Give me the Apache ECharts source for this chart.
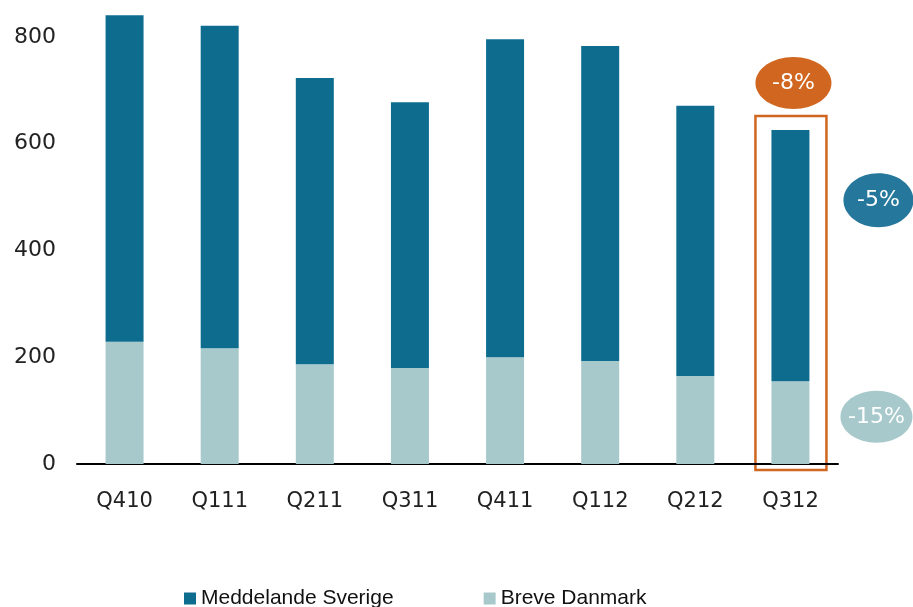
<!DOCTYPE html>
<html>
<head>
<meta charset="utf-8">
<script src="https://cdn.jsdelivr.net/npm/echarts@6/dist/echarts.min.js"></script>
<style>
  html, body { margin: 0; padding: 0; background: #fff; }
  #chart { width: 913px; height: 607px; }
</style>
</head>
<body>
<div id="chart"></div>
<script>
// Quarters on the x axis
const quarters = ['Q410', 'Q111', 'Q211', 'Q311', 'Q411', 'Q112', 'Q212', 'Q312'];
// Stacked values
const breveDanmark = [229, 217, 187, 180, 200, 193, 165, 155];
const meddelandeSverige = [612, 604, 536, 498, 596, 590, 506, 471];
// Change labels shown in the bubbles on the right
const changeTotal = '-8%';
const changeSverige = '-5%';
const changeDanmark = '-15%';

const darkTeal = '#0e6d8f';
const lightTeal = '#a8c9cb';
const orange = '#d0661f';

const chart = echarts.init(document.getElementById('chart'));

const option = {
  animation: false,
  grid: { left: 77, right: 75, top: 5, bottom: 143 },
  legend: {
    left: 179,
    top: 583,
    itemWidth: 12,
    itemHeight: 12,
    itemGap: 90,
    icon: 'rect',
    textStyle: { fontFamily: 'Liberation Sans', fontSize: 21, color: '#111' },
    data: ['Meddelande Sverige', 'Breve Danmark']
  },
  xAxis: {
    type: 'category',
    data: quarters,
    axisLine: { lineStyle: { color: '#000', width: 2 } },
    axisTick: { show: false },
    axisLabel: { fontFamily: 'DejaVu Sans', fontSize: 21, color: '#222', margin: 27 }
  },
  yAxis: {
    type: 'value',
    min: 0,
    max: 860,
    interval: 200,
    splitLine: { show: false },
    axisLine: { show: false },
    axisTick: { show: false },
    axisLabel: {
      fontFamily: 'DejaVu Sans', fontSize: 22, color: '#222', margin: 21,
      formatter: v => (v % 200 === 0 ? v : '')
    }
  },
  series: [
    {
      name: 'Breve Danmark',
      type: 'bar',
      stack: 'total',
      barWidth: 38,
      itemStyle: { color: lightTeal },
      data: breveDanmark
    },
    {
      name: 'Meddelande Sverige',
      type: 'bar',
      stack: 'total',
      barWidth: 38,
      itemStyle: { color: darkTeal },
      data: meddelandeSverige
    }
  ]
};
chart.setOption(option);

// Annotations placed relative to the last bar
const last = quarters.length - 1;
const lastTotal = breveDanmark[last] + meddelandeSverige[last];
const [cx, topY] = chart.convertToPixel({ seriesIndex: 0 }, [last, lastTotal]);
const [, baseY] = chart.convertToPixel({ seriesIndex: 0 }, [last, 0]);
const [, midSverige] = chart.convertToPixel({ seriesIndex: 0 }, [last, breveDanmark[last] + meddelandeSverige[last] * 0.72]);
const [, midDanmark] = chart.convertToPixel({ seriesIndex: 0 }, [last, breveDanmark[last] * 0.57]);

function bubble(x, y, rx, ry, color, text) {
  return {
    type: 'group',
    children: [
      { type: 'ellipse', shape: { cx: x, cy: y, rx: rx, ry: ry }, style: { fill: color } },
      {
        type: 'text', x: x, y: y,
        style: {
          text: text, fill: '#fff', font: '22px "DejaVu Sans"',
          align: 'center', verticalAlign: 'middle'
        }
      }
    ]
  };
}

chart.setOption({
  graphic: [
    {
      type: 'rect',
      shape: { x: cx - 35, y: topY - 14, width: 71, height: baseY - topY + 20 },
      style: { fill: 'none', stroke: orange, lineWidth: 2.5 }
    },
    bubble(cx + 3, topY - 47, 38, 26, orange, changeTotal),
    bubble(cx + 88, midSverige, 35, 27, '#25789c', changeSverige),
    bubble(cx + 86, midDanmark, 36, 26, lightTeal, changeDanmark)
  ]
});
</script>
</body>
</html>
